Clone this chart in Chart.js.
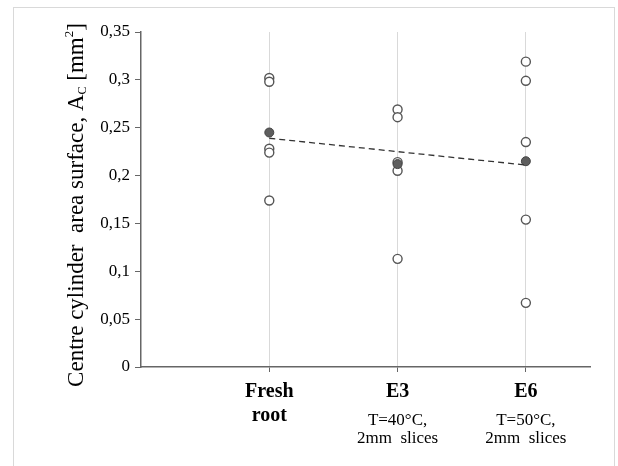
<!DOCTYPE html>
<html>
<head>
<meta charset="utf-8">
<script src="https://cdn.jsdelivr.net/npm/chart.js@4/dist/chart.umd.min.js"></script>
<style>
  html, body { margin: 0; padding: 0; background: #fff; }
  #frame { position: absolute; left: 13px; top: 7px; width: 600px; height: 470px;
           border: 1px solid #d9d9d9; border-bottom: none; }
  #c1 { position: absolute; left: 0; top: 0; }
</style>
</head>
<body>
<div id="frame"></div>
<canvas id="c1" width="618" height="466"></canvas>
<script>
// category positions on the x axis and their labels
var positions = [1, 2, 3];
var tickLabels = [['Fresh', 'root'], 'E3', 'E6'];
var subLabels = [[], ['T=40°C,', '2mm  slices'], ['T=50°C,', '2mm  slices']];

// individual measurements (mm²)
var freshRoot = [0.302, 0.298, 0.228, 0.224, 0.174];
var e3 = [0.269, 0.261, 0.214, 0.205, 0.113];
var e6 = [0.319, 0.299, 0.235, 0.154, 0.067];
var means = [0.245, 0.212, 0.215];
var trend = [0.239, 0.225, 0.211];

var yTicks = [0, 0.05, 0.1, 0.15, 0.2, 0.25, 0.3, 0.35];

(function(divId){
    var serif = '"Liberation Serif", "Times New Roman", serif';
    var samples = [freshRoot, e3, e6];

    var openPoints = [];
    samples.forEach(function(arr, i){
        arr.forEach(function(v){ openPoints.push({x: positions[i], y: v}); });
    });

    var extraText = {
        id: 'extraText',
        afterDraw: function(chart){
            var ctx = chart.ctx, xs = chart.scales.x;
            ctx.save();
            ctx.fillStyle = '#000';
            ctx.font = '17px ' + serif;
            ctx.textAlign = 'center';
            ctx.textBaseline = 'alphabetic';
            subLabels.forEach(function(lines, i){
                var px = xs.getPixelForValue(positions[i]);
                lines.forEach(function(t, j){ ctx.fillText(t, px, xs.top + 58 + j * 18); });
            });

            // y axis title with subscript / superscript
            var parts = [
                {t: 'Centre cylinder  area surface, A', s: 23, dy: 0},
                {t: 'C', s: 12, dy: 3},
                {t: ' [mm', s: 23, dy: 0},
                {t: '2', s: 13, dy: -10},
                {t: ']', s: 23, dy: 0}
            ];
            var total = 0;
            parts.forEach(function(p){
                ctx.font = p.s + 'px ' + serif;
                p.w = ctx.measureText(p.t).width;
                total += p.w;
            });
            ctx.translate(83, 205);
            ctx.rotate(-Math.PI / 2);
            ctx.textAlign = 'left';
            var cx = -total / 2;
            parts.forEach(function(p){
                ctx.font = p.s + 'px ' + serif;
                ctx.fillText(p.t, cx, p.dy);
                cx += p.w;
            });
            ctx.restore();
        }
    };

    var data = {
        datasets: [
            {
                type: 'line',
                label: 'trend',
                data: trend.map(function(v, i){ return {x: positions[i], y: v}; }),
                borderColor: '#333',
                borderWidth: 1.3,
                borderDash: [6, 4],
                pointRadius: 0,
                fill: false,
                order: 0
            },
            {
                type: 'scatter',
                label: 'mean',
                data: means.map(function(v, i){ return {x: positions[i], y: v}; }),
                backgroundColor: '#5e5e5e',
                borderColor: '#444',
                borderWidth: 1,
                pointRadius: 4.5,
                order: 1
            },
            {
                type: 'scatter',
                label: 'samples',
                data: openPoints,
                backgroundColor: '#fff',
                borderColor: '#555',
                borderWidth: 1.4,
                pointRadius: 4.5,
                order: 2
            }
        ]
    };

    var options = {
        responsive: false,
        animation: false,
        layout: { padding: { left: 0, top: 32, right: 28, bottom: 0 } },
        plugins: { legend: { display: false }, tooltip: { enabled: false } },
        scales: {
            x: {
                type: 'linear',
                min: 0,
                max: 3.5,
                afterBuildTicks: function(s){ s.ticks = positions.map(function(v){ return {value: v}; }); },
                afterFit: function(s){ s.height = 99; },
                border: { color: '#666', width: 1.5 },
                grid: { color: '#d9d9d9', lineWidth: 1, tickColor: '#666', tickLength: 5 },
                ticks: {
                    autoSkip: false,
                    maxRotation: 0,
                    padding: 8,
                    color: '#000',
                    font: { family: serif, size: 20, weight: 'bold', lineHeight: 1.2 },
                    callback: function(v){ return tickLabels[positions.indexOf(v)]; }
                }
            },
            y: {
                min: 0,
                max: 0.35,
                afterBuildTicks: function(s){ s.ticks = yTicks.map(function(v){ return {value: v}; }); },
                afterFit: function(s){ s.width = 141; },
                border: { color: '#666', width: 1.5 },
                grid: { drawOnChartArea: false, tickColor: '#666', tickLength: 6 },
                ticks: {
                    padding: 5,
                    color: '#000',
                    font: { family: serif, size: 17 },
                    callback: function(v){ return String(Math.round(v * 100) / 100).replace('.', ','); }
                }
            }
        }
    };

    var div = document.getElementById(divId);
    if (!div)
        return;

    var ctx = div.getContext('2d');
    var chart = new Chart(ctx, {
        type: 'scatter',
        data: data,
        options: options,
        plugins: [extraText]
    });
})('c1');
</script>
</body>
</html>
